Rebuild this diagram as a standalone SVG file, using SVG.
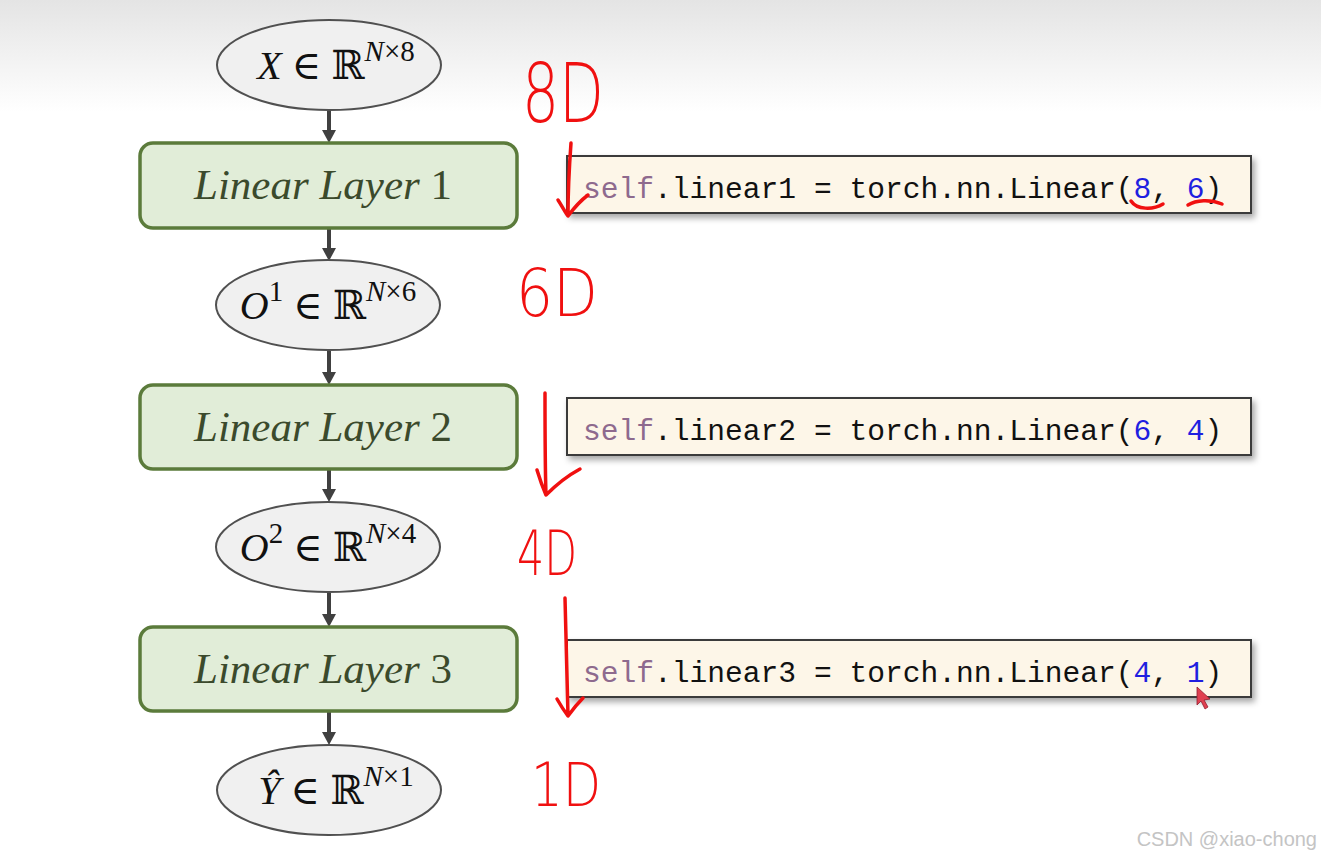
<svg xmlns="http://www.w3.org/2000/svg" width="1321" height="862" viewBox="0 0 1321 862">
<defs>
<linearGradient id="bg" x1="0" y1="0" x2="0" y2="1">
<stop offset="0" stop-color="#e4e4e4"/>
<stop offset="0.13" stop-color="#ffffff"/>
<stop offset="1" stop-color="#ffffff"/>
</linearGradient>
<filter id="sh" x="-5%" y="-20%" width="110%" height="160%">
<feDropShadow dx="3" dy="4" stdDeviation="3" flood-color="#000" flood-opacity="0.35"/>
</filter>
<style>
.ell{fill:#f0f0f0;stroke:#505050;stroke-width:2}
.lay{fill:#e1edd8;stroke:#5b7b3b;stroke-width:3.5}
.math{font-family:"Liberation Serif","DejaVu Serif",serif;font-size:40px;fill:#111}
.sup{font-size:29px}
.ltxt{font-family:"Liberation Serif","DejaVu Serif",serif;font-size:43px;fill:#3b4a2c}
.code{fill:#fdf6e8;stroke:#3a3a3a;stroke-width:2}
.ctxt{font-family:"Liberation Mono","DejaVu Sans Mono",monospace;font-size:29.6px;fill:#111}
.kw{fill:#8e6a8e}
.num{fill:#1f1fe0}
.conn{stroke:#404040;stroke-width:4;fill:none}
.arr{fill:#404040}
.red{stroke:#f01010;stroke-width:3.5;fill:none;stroke-linecap:round;stroke-linejoin:round}
.hand{font-family:"DejaVu Sans","Liberation Sans",sans-serif;font-weight:200;fill:#f01010}
</style>
</defs>
<rect x="0" y="0" width="1321" height="862" fill="url(#bg)"/>

<g id="connectors">
<line class="conn" x1="329" y1="110" x2="329" y2="132"/><path class="arr" d="M322,130 L336,130 L329,143 Z"/>
<line class="conn" x1="329" y1="228" x2="329" y2="250"/><path class="arr" d="M322,248 L336,248 L329,261 Z"/>
<line class="conn" x1="329" y1="351" x2="329" y2="374"/><path class="arr" d="M322,372 L336,372 L329,385 Z"/>
<line class="conn" x1="329" y1="469" x2="329" y2="491"/><path class="arr" d="M322,489 L336,489 L329,502 Z"/>
<line class="conn" x1="329" y1="593" x2="329" y2="616"/><path class="arr" d="M322,614 L336,614 L329,627 Z"/>
<line class="conn" x1="329" y1="711" x2="329" y2="734"/><path class="arr" d="M322,732 L336,732 L329,745 Z"/>
</g>

<g id="x_input">
<ellipse class="ell" cx="329" cy="65" rx="112" ry="45"/>
<text class="math" x="336" y="79" text-anchor="middle"><tspan font-style="italic">X</tspan> ∈ ℝ<tspan class="sup" dy="-18"><tspan font-style="italic">N</tspan>×8</tspan></text>
</g>

<g id="layer1">
<rect class="lay" x="140" y="143" width="377" height="85" rx="13"/>
<text class="ltxt" x="323" y="199" text-anchor="middle"><tspan font-style="italic">Linear Layer</tspan> 1</text>
</g>

<g id="o1">
<ellipse class="ell" cx="328" cy="305" rx="112" ry="45"/>
<text class="math" x="328" y="319" text-anchor="middle"><tspan font-style="italic">O</tspan><tspan class="sup" dy="-18">1</tspan><tspan dy="18"> ∈ ℝ</tspan><tspan class="sup" dy="-18"><tspan font-style="italic">N</tspan>×6</tspan></text>
</g>

<g id="layer2">
<rect class="lay" x="140" y="385" width="377" height="84" rx="13"/>
<text class="ltxt" x="323" y="441" text-anchor="middle"><tspan font-style="italic">Linear Layer</tspan> 2</text>
</g>

<g id="o2">
<ellipse class="ell" cx="328" cy="547" rx="112" ry="45"/>
<text class="math" x="328" y="561" text-anchor="middle"><tspan font-style="italic">O</tspan><tspan class="sup" dy="-18">2</tspan><tspan dy="18"> ∈ ℝ</tspan><tspan class="sup" dy="-18"><tspan font-style="italic">N</tspan>×4</tspan></text>
</g>

<g id="layer3">
<rect class="lay" x="140" y="627" width="377" height="84" rx="13"/>
<text class="ltxt" x="323" y="683" text-anchor="middle"><tspan font-style="italic">Linear Layer</tspan> 3</text>
</g>

<g id="y_output">
<ellipse class="ell" cx="329" cy="790" rx="112" ry="45"/>
<text class="math" x="336" y="804" text-anchor="middle"><tspan font-style="italic">Ŷ</tspan> ∈ ℝ<tspan class="sup" dy="-18"><tspan font-style="italic">N</tspan>×1</tspan></text>
</g>

<g id="code1">
<rect class="code" x="567" y="156" width="684" height="57" filter="url(#sh)"/>
<text class="ctxt" x="583" y="198"><tspan class="kw">self</tspan>.linear1 = torch.nn.Linear(<tspan class="num">8</tspan>, <tspan class="num">6</tspan>)</text>
</g>
<g id="code2">
<rect class="code" x="567" y="398" width="684" height="57" filter="url(#sh)"/>
<text class="ctxt" x="583" y="440"><tspan class="kw">self</tspan>.linear2 = torch.nn.Linear(<tspan class="num">6</tspan>, <tspan class="num">4</tspan>)</text>
</g>
<g id="code3">
<rect class="code" x="567" y="640" width="684" height="57" filter="url(#sh)"/>
<text class="ctxt" x="583" y="682"><tspan class="kw">self</tspan>.linear3 = torch.nn.Linear(<tspan class="num">4</tspan>, <tspan class="num">1</tspan>)</text>
</g>

<g id="annotations">
<text class="hand" x="522" y="122" font-size="82" textLength="82" lengthAdjust="spacingAndGlyphs">8D</text>
<text class="hand" x="516" y="316" font-size="66" textLength="82" lengthAdjust="spacingAndGlyphs">6D</text>
<text class="hand" x="517" y="575" font-size="62" textLength="60" lengthAdjust="spacingAndGlyphs">4D</text>
<text class="hand" x="531" y="806" font-size="60" textLength="70" lengthAdjust="spacingAndGlyphs">1D</text>
<path class="red" d="M571,143 C569,170 568,195 568,216 M558,200 C562,206 565,212 568,216 C574,208 580,201 588,195"/>
<path class="red" d="M545,393 C545,430 545,465 546,495 M537,470 C540,480 543,488 546,495 C556,485 567,476 580,469"/>
<path class="red" d="M565,598 C566,640 567,680 568,716 M557,699 C561,706 565,712 568,716 C573,709 578,703 583,698"/>
<path class="red" d="M1131,201 C1137,210 1153,210 1163,204"/>
<path class="red" d="M1188,205 C1196,200 1210,199 1222,204"/>
<path d="M1197,687 L1197,705 L1201,701 L1205,709 L1208,707 L1204,700 L1210,699 Z" fill="#e04050" stroke="#902030" stroke-width="0.8"/>
</g>

<text x="1317" y="846" text-anchor="end" font-family="Liberation Sans, Arial, sans-serif" font-size="20" fill="#c4c4c4">CSDN @xiao-chong</text>
</svg>
